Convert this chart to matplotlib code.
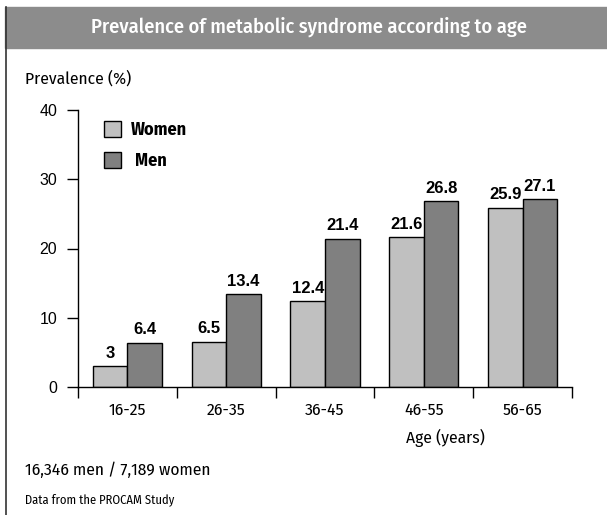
import matplotlib
matplotlib.use("Agg")
import matplotlib.pyplot as plt
from matplotlib.patches import Rectangle
from matplotlib.lines import Line2D
import numpy as np

age_groups = ["16-25", "26-35", "36-45", "46-55", "56-65"]
women = [3, 6.5, 12.4, 21.6, 25.9]
men = [6.4, 13.4, 21.4, 26.8, 27.1]
women_labels = ["3", "6.5", "12.4", "21.6", "25.9"]
men_labels = ["6.4", "13.4", "21.4", "26.8", "27.1"]

W, H = 607, 515
plt.rcParams["font.family"] = ["Fira Sans Condensed", "DejaVu Sans"]
NUM_FONT = ["Liberation Sans", "DejaVu Sans"]

fig = plt.figure(figsize=(W / 100, H / 100), dpi=100)


def px(x, y):
    # pixel coords (from top-left) -> figure fraction
    return x / W, 1 - y / H


# title band and left frame line
fig.patches.append(Rectangle(px(5, 48), (W - 5) / W, 41 / H,
                             transform=fig.transFigure, color="#8c8c8c"))
fig.lines.append(Line2D([5.5 / W, 5.5 / W], [1 - 7 / H, 0],
                        transform=fig.transFigure, color="#333333", lw=1.2))
fig.text(*px(309, 27), "Prevalence of metabolic syndrome according to age",
         color="white", fontsize=14.7, fontweight="medium",
         ha="center", va="center")

ax = fig.add_axes([78 / W, 1 - 387 / H, (572 - 78) / W, (387 - 110) / H])
x = np.arange(len(age_groups)) + 0.5
bw = 0.35
ax.bar(x - bw / 2, women, bw, color="#c0c0c0", edgecolor="black", lw=1)
ax.bar(x + bw / 2, men, bw, color="#808080", edgecolor="black", lw=1)

for xi, v, s in zip(x - bw / 2, women, women_labels):
    ax.annotate(s, (xi, v), xytext=(0, 4), textcoords="offset points",
                ha="center", va="bottom", fontsize=12, fontweight="bold",
                family=NUM_FONT)
for xi, v, s in zip(x + bw / 2, men, men_labels):
    ax.annotate(s, (xi, v), xytext=(0, 4), textcoords="offset points",
                ha="center", va="bottom", fontsize=12, fontweight="bold",
                family=NUM_FONT)

ax.set_xlim(0, len(age_groups))
ax.set_ylim(0, 40)
ax.set_yticks([0, 10, 20, 30, 40])
ax.set_yticklabels(["0", "10", "20", "30", "40"], family=NUM_FONT, fontsize=11.5)
ax.tick_params(axis="y", length=8, width=1, pad=7)
ax.set_xticks(np.arange(len(age_groups) + 1))
ax.set_xticklabels([])
ax.tick_params(axis="x", which="major", length=8, width=1, direction="out")
ax.set_xticks(x, minor=True)
ax.set_xticklabels(age_groups, minor=True, fontsize=12.5)
ax.tick_params(axis="x", which="minor", length=0, pad=11)
for side in ("top", "right"):
    ax.spines[side].set_visible(False)
ax.spines["left"].set_linewidth(1)
ax.spines["bottom"].set_linewidth(1)
ax.set_facecolor("none")

# legend drawn as squares with labels
fig.patches.append(Rectangle(px(104, 137), 17 / W, 16 / H,
                             transform=fig.transFigure, facecolor="#c0c0c0",
                             edgecolor="black", lw=1))
fig.patches.append(Rectangle(px(104, 168), 17 / W, 16 / H,
                             transform=fig.transFigure, facecolor="#808080",
                             edgecolor="black", lw=1))
fig.text(*px(131, 130), "Women", fontsize=13, fontweight="bold", va="center")
fig.text(*px(135, 161), "Men", fontsize=13, fontweight="bold", va="center")

fig.text(*px(25, 79), "Prevalence (%)", fontsize=12.5, va="center")
fig.text(*px(445, 438), "Age (years)", fontsize=12.5, ha="center", va="center")
fig.text(*px(25, 470), "16,346 men / 7,189 women", fontsize=12.5, va="center")
fig.text(*px(25, 500), "Data from the PROCAM Study", fontsize=9, va="center")

fig.savefig("out.png", dpi=100)
